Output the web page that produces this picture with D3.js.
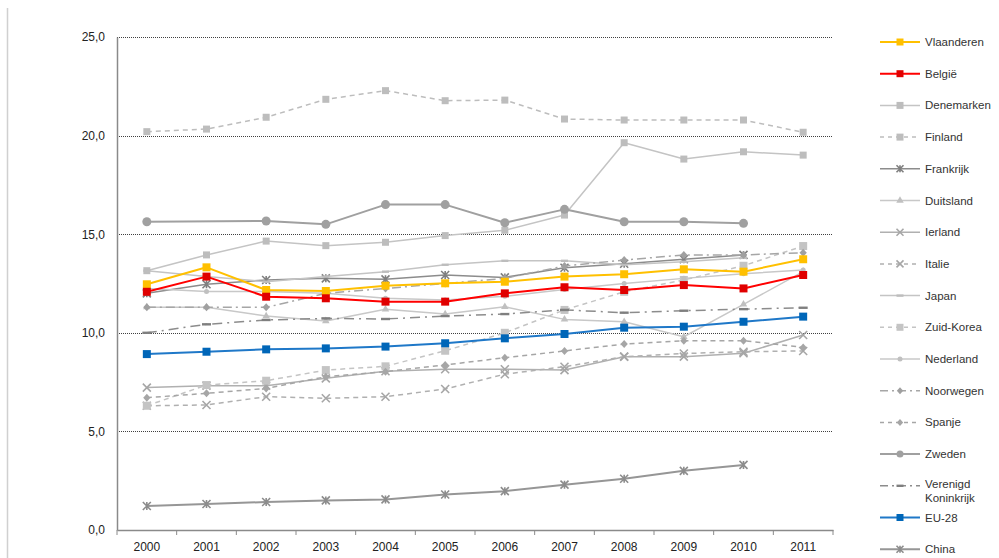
<!DOCTYPE html>
<html><head><meta charset="utf-8">
<script src="https://cdn.jsdelivr.net/npm/d3@7/dist/d3.min.js"></script>
<style>body{margin:0;background:#fff;font-family:"Liberation Sans",Arial,sans-serif;}</style>
</head><body><svg id="c" width="999" height="558"></svg>
<script>
const years = ["2000","2001","2002","2003","2004","2005","2006","2007","2008","2009","2010","2011"];
const yTicks = [0,5,10,15,20,25];

const vlaanderen = [12.46,13.32,12.17,12.12,12.39,12.51,12.59,12.85,12.97,13.22,13.1,13.73];
const belgie     = [12.08,12.85,11.83,11.75,11.58,11.58,12.0,12.31,12.17,12.42,12.25,12.93];
const denemarken = [13.15,13.95,14.65,14.42,14.59,14.93,15.2,15.97,19.64,18.81,19.18,19.01];
const finland    = [20.2,20.33,20.93,21.84,22.28,21.77,21.8,20.84,20.79,20.79,20.79,20.17];
const frankrijk  = [12.0,12.46,12.68,12.76,12.71,12.93,12.81,13.3,13.5,13.73,13.95,null];
const duitsland  = [11.3,11.3,10.85,10.6,11.19,10.95,11.32,10.68,10.56,9.8,11.44,13.1];
const ierland    = [7.22,7.32,7.32,7.69,8.05,8.15,8.15,8.11,8.79,8.79,8.96,9.89];
const italie     = [6.3,6.34,6.76,6.68,6.76,7.15,7.9,8.28,8.79,8.95,9.04,9.08];
const japan      = [13.15,12.85,12.59,12.85,13.1,13.45,13.65,13.65,13.45,13.6,13.8,null];
const zuidKorea  = [6.3,7.35,7.57,8.11,8.3,9.09,10.0,11.16,12.08,12.68,13.4,14.4];
const nederland  = [12.25,12.1,12.1,12.0,11.75,11.66,11.85,12.2,12.5,12.76,13.0,13.18];
const noorwegen  = [11.29,11.29,11.29,12.0,12.25,12.5,12.76,13.39,13.69,13.95,13.95,14.06];
const spanje     = [6.71,6.93,7.18,7.77,8.03,8.37,8.74,9.08,9.43,9.6,9.6,9.26];
const zweden     = [15.63,null,15.67,15.5,16.5,16.5,15.58,16.26,15.63,15.63,15.55,null];
const vk         = [10.0,10.43,10.65,10.73,10.7,10.85,10.95,11.16,11.02,11.12,11.2,11.27];
const eu28       = [8.92,9.04,9.16,9.21,9.3,9.47,9.72,9.94,10.26,10.31,10.56,10.82];
const china      = [1.22,1.32,1.42,1.5,1.55,1.8,1.97,2.3,2.6,3.0,3.3,null];

const series = [
  {name:"Vlaanderen", values:vlaanderen, color:"#FFC000", w:2, dash:null, marker:"square", ms:8, mc:"#FFC000"},
  {name:"België", values:belgie, color:"#FF0000", w:2, dash:null, marker:"square", ms:8, mc:"#E00000"},
  {name:"Denemarken", values:denemarken, color:"#C4C4C4", w:1.5, dash:null, marker:"square", ms:7, mc:"#BDBDBD"},
  {name:"Finland", values:finland, color:"#BDBDBD", w:1.5, dash:"5,4", marker:"square", ms:7, mc:"#BDBDBD"},
  {name:"Frankrijk", values:frankrijk, color:"#8C8C8C", w:1.5, dash:null, marker:"star", ms:8, mc:"#7F7F7F"},
  {name:"Duitsland", values:duitsland, color:"#C8C8C8", w:1.5, dash:null, marker:"triangle", ms:7, mc:"#C0C0C0"},
  {name:"Ierland", values:ierland, color:"#B0B0B0", w:1.5, dash:null, marker:"x", ms:8, mc:"#A6A6A6"},
  {name:"Italie", values:italie, color:"#B0B0B0", w:1.5, dash:"5,4", marker:"x", ms:8, mc:"#A6A6A6"},
  {name:"Japan", values:japan, color:"#C4C4C4", w:1.5, dash:null, marker:"dash", ms:7, mc:"#BDBDBD"},
  {name:"Zuid-Korea", values:zuidKorea, color:"#C4C4C4", w:1.5, dash:"5,4", marker:"square", ms:8, mc:"#C4C4C4"},
  {name:"Nederland", values:nederland, color:"#C8C8C8", w:1.5, dash:null, marker:"circle", ms:5, mc:"#C0C0C0"},
  {name:"Noorwegen", values:noorwegen, color:"#A6A6A6", w:1.5, dash:"9,4,2,4", marker:"diamond", ms:8, mc:"#A0A0A0"},
  {name:"Spanje", values:spanje, color:"#A6A6A6", w:1.5, dash:"5,4", marker:"diamond", ms:8, mc:"#A6A6A6"},
  {name:"Zweden", values:zweden, color:"#A0A0A0", w:2, dash:null, marker:"circle", ms:9, mc:"#A0A0A0"},
  {name:"Verenigd Koninkrijk", values:vk, color:"#8C8C8C", w:1.5, dash:"10,5,2,5", marker:"dash", ms:9, mc:"#7F7F7F"},
  {name:"EU-28", values:eu28, color:"#1F78C8", w:2, dash:null, marker:"square", ms:8, mc:"#0066B8"},
  {name:"China", values:china, color:"#969696", w:2, dash:null, marker:"star", ms:8, mc:"#8C8C8C"}
];

const svg = d3.select("#c");
const pLeft = 117, pRight = 833, pTop = 37, pBottom = 530;
const xb = d3.scaleBand().domain(years).range([pLeft,pRight]);
const x = d3.scalePoint().domain(years).range([pLeft,pRight]).padding(0.5);
const y = d3.scaleLinear().domain([0,25]).range([pBottom,pTop]);

// page border line at left
svg.append("line").attr("x1",7.5).attr("x2",7.5).attr("y1",8).attr("y2",558).attr("stroke","#D0D0D0").attr("stroke-width",1.5);

// gridlines
svg.append("g").selectAll("line").data(yTicks.filter(d=>d>0)).join("line")
  .attr("x1",pLeft).attr("x2",pRight).attr("y1",d=>Math.round(y(d))+0.5).attr("y2",d=>Math.round(y(d))+0.5)
  .attr("stroke","#404040").attr("stroke-width",1).attr("stroke-dasharray","1,1");

// y axis
const ya = svg.append("g").attr("transform",`translate(${pLeft},0)`)
  .call(d3.axisLeft(y).tickValues(yTicks).tickSize(0).tickPadding(12).tickFormat(d=>d3.format(".1f")(d).replace(".",",")));
ya.select(".domain").attr("stroke","#8A8A8A").attr("stroke-width",1.5);
ya.selectAll("text").attr("font-size",12).attr("fill","#222").attr("font-family","Liberation Sans, Arial, sans-serif");

// x axis
const xa = svg.append("g").attr("transform",`translate(0,${pBottom})`)
  .call(d3.axisBottom(xb).tickSize(0).tickPadding(12));
xa.select(".domain").attr("stroke","#8A8A8A").attr("stroke-width",1.5);
xa.selectAll("text").attr("font-size",12).attr("fill","#222").attr("font-family","Liberation Sans, Arial, sans-serif");
xa.append("g").selectAll("line").data(years.concat(["end"])).join("line")
  .attr("x1",(d,i)=>pLeft+i*xb.step()).attr("x2",(d,i)=>pLeft+i*xb.step())
  .attr("y1",0).attr("y2",5).attr("stroke","#8A8A8A").attr("stroke-width",1);

function markerPath(type, s){
  if(type==="square") return d3.symbol(d3.symbolSquare, s*s)();
  if(type==="circle") return d3.symbol(d3.symbolCircle, Math.PI*(s/2)*(s/2))();
  if(type==="diamond") return `M0,${-s/2}L${s/2.2},0L0,${s/2}L${-s/2.2},0Z`;
  if(type==="triangle") return d3.symbol(d3.symbolTriangle, s*s*0.5)();
  if(type==="x"){const h=s/2;return `M${-h},${-h}L${h},${h}M${-h},${h}L${h},${-h}`;}
  if(type==="star"){const h=s/2;return `M${-h},${-h}L${h},${h}M${-h},${h}L${h},${-h}M0,${-h}L0,${h}`;}
  if(type==="dash"){const h=s/2;return `M${-h},-1.2L${h},-1.2L${h},1.2L${-h},1.2Z`;}
}
const strokeMarkers = {x:true, star:true};

function drawMarker(g, sr, cx, cy){
  const p = g.append("path").attr("d", markerPath(sr.marker, sr.ms)).attr("transform",`translate(${cx},${cy})`);
  if(strokeMarkers[sr.marker]) p.attr("fill","none").attr("stroke",sr.mc).attr("stroke-width",1.6);
  else p.attr("fill",sr.mc).attr("stroke","none");
}

const line = d3.line().x(d=>x(d.year)).y(d=>y(d.v));
const plot = svg.append("g");
const order = series.filter(s=>!["Vlaanderen","België","EU-28"].includes(s.name))
  .concat(series.filter(s=>["EU-28","België","Vlaanderen"].includes(s.name)));
order.forEach(sr=>{
  const pts = years.map((yr,i)=>({year:yr, v:sr.values[i]})).filter(d=>d.v!=null);
  const g = plot.append("g");
  g.append("path").datum(pts).attr("d",line).attr("fill","none").attr("stroke",sr.color)
    .attr("stroke-width",sr.w).attr("stroke-dasharray",sr.dash).attr("stroke-linejoin","round");
  pts.forEach(d=>drawMarker(g, sr, x(d.year), y(d.v)));
});

// legend
const lg = svg.append("g");
const ly0 = 42, lstep = 31.7;
series.forEach((sr,i)=>{
  const cy = ly0 + i*lstep;
  const g = lg.append("g");
  g.append("line").attr("x1",880).attr("x2",920).attr("y1",cy).attr("y2",cy)
    .attr("stroke",sr.color).attr("stroke-width",sr.w).attr("stroke-dasharray",sr.dash ? (sr.dash.split(",").length>2 ? "8,4,2,4" : "4,4") : null);
  drawMarker(g, Object.assign({}, sr, {ms: Math.min(sr.ms,7)}), 900, cy);
  if(sr.name==="Verenigd Koninkrijk"){
    g.append("text").attr("x",925).attr("y",cy-2).attr("dy","0.35em").text("Verenigd");
    g.append("text").attr("x",925).attr("y",cy+12).attr("dy","0.35em").text("Koninkrijk");
  } else {
    g.append("text").attr("x",925).attr("y",cy).attr("dy","0.35em").text(sr.name);
  }
});
lg.selectAll("text").attr("font-size",11.5).attr("fill","#333").attr("font-family","Liberation Sans, Arial, sans-serif");
</script></body></html>
